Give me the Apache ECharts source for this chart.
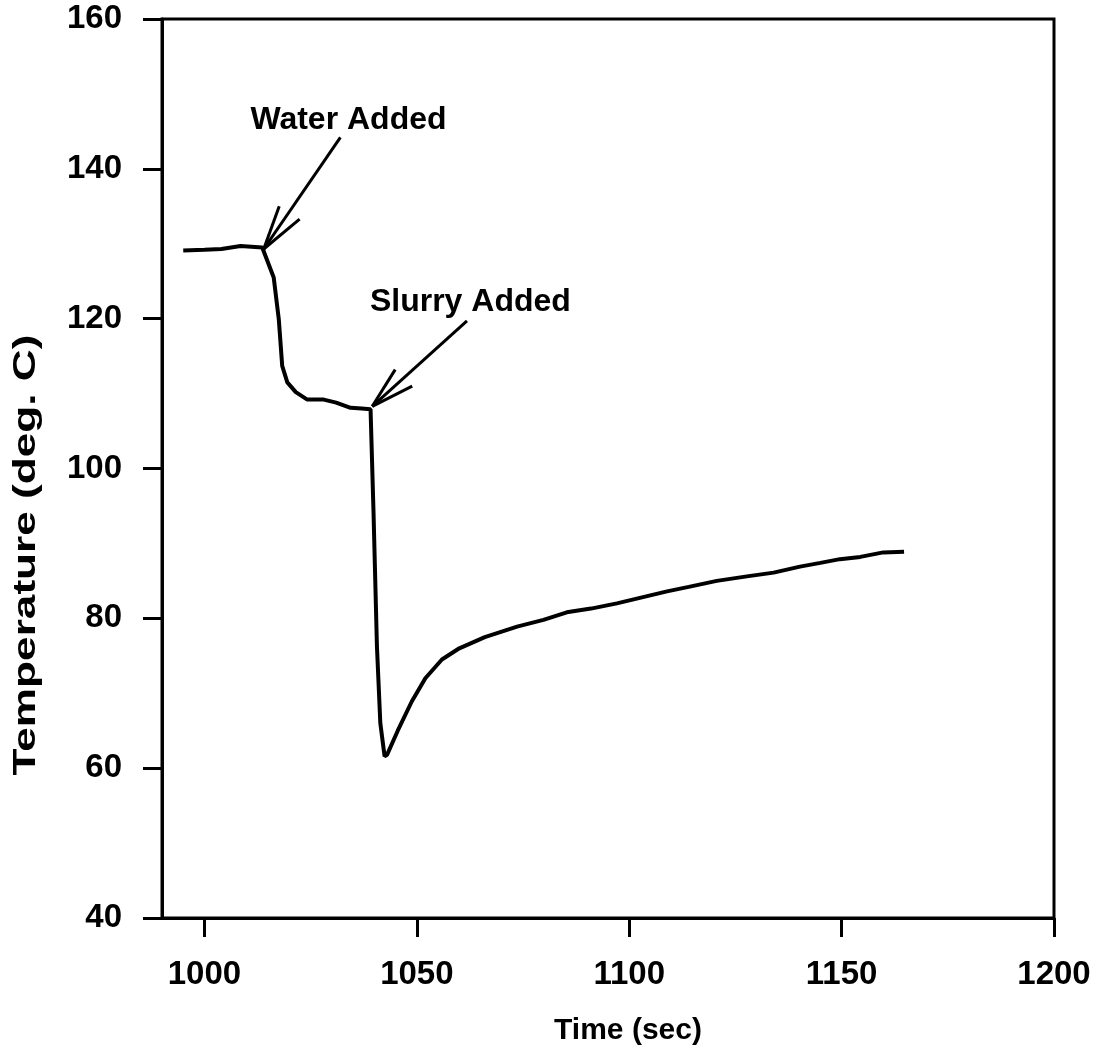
<!DOCTYPE html>
<html>
<head>
<meta charset="utf-8">
<script src="https://cdn.jsdelivr.net/npm/echarts@6/dist/echarts.min.js"></script>
<style>
  html, body { margin: 0; padding: 0; background: #fff; }
  #chart { width: 1102px; height: 1055px; }
</style>
</head>
<body>
<div id="chart"></div>
<script>
// Temperature trace (time in seconds, temperature in deg. C)
const timeSec = [995, 1000, 1004, 1008.5, 1013.6, 1016.3, 1017.5, 1018.3, 1019.5, 1021.5,
  1024.2, 1028.1, 1031, 1034.4, 1037, 1039.1, 1039.8, 1040.6, 1041.4, 1042.4,
  1043.0, 1045.5, 1048.8, 1052, 1055.9, 1060, 1066, 1073.6, 1079.8, 1085.3,
  1091, 1097.1, 1103, 1108.9, 1114, 1120.6, 1127.7, 1134, 1140.2, 1145,
  1149.6, 1154.4, 1159.8, 1164.7];
const tempC = [129.1, 129.2, 129.3, 129.7, 129.5, 125.5, 119.9, 113.7, 111.5, 110.2,
  109.2, 109.2, 108.8, 108.1, 108.0, 107.9, 94.1, 76.3, 66.0, 61.6,
  61.8, 65.0, 68.9, 72.0, 74.5, 76.0, 77.5, 78.9, 79.8, 80.8,
  81.3, 82.0, 82.8, 83.6, 84.2, 85.0, 85.6, 86.1, 86.9, 87.4,
  87.9, 88.2, 88.8, 88.9];

// Axis ticks and titles
const xTicks = [1000, 1050, 1100, 1150, 1200];
const yMin = 40, yMax = 160, yStep = 20;
const xMin = 990, xMax = 1200;
const xTitle = 'Time (sec)';
const yTitle = 'Temperature (deg. C)';

// Annotations: label text, label anchor, and arrow (tail, tip, two barbs) in data units
const annotLabels = ['Water Added', 'Slurry Added'];
const annotLabelAt = [[1033.9, 146.5], [1062.6, 122.2]];
const annotArrows = [
  { tail: [1032.0, 144.2], tip: [1013.95, 129.3], barbA: [1017.6, 135.0], barbB: [1022.4, 133.3] },
  { tail: [1061.8, 119.7], tip: [1039.5, 108.3], barbA: [1044.9, 113.2], barbB: [1048.9, 111.0] }
];

const FONT = '"Liberation Sans", Arial, Helvetica, sans-serif';

const trace = timeSec.map((t, i) => [t, tempC[i]]);

const arrowSeries = [];
annotArrows.forEach(a => {
  [[a.tail, a.tip], [a.barbA, a.tip], [a.barbB, a.tip]].forEach(seg => {
    arrowSeries.push({
      type: 'line',
      data: seg,
      symbol: 'none',
      silent: true,
      lineStyle: { color: '#000', width: 3 },
      z: 3
    });
  });
});

const chart = echarts.init(document.getElementById('chart'));
chart.setOption({
  animation: false,
  backgroundColor: '#fff',
  grid: {
    left: 162, right: 48, top: 19, bottom: 137,
    show: true, borderColor: '#000', borderWidth: 3
  },
  graphic: [
    {
      type: 'text',
      x: 628, y: 1031,
      silent: true,
      style: {
        text: xTitle,
        font: 'bold 30px ' + FONT,
        fill: '#000',
        align: 'center',
        verticalAlign: 'middle'
      }
    },
    {
      type: 'text',
      x: 26, y: 555,
      rotation: Math.PI / 2,
      scaleX: 1.38,
      silent: true,
      style: {
        text: yTitle,
        font: 'bold 32px ' + FONT,
        fill: '#000',
        align: 'center',
        verticalAlign: 'middle'
      }
    }
  ],
  xAxis: {
    type: 'value',
    min: xMin, max: xMax,
    axisLine: { lineStyle: { color: '#000', width: 3 } },
    axisTick: { show: true, length: 19, lineStyle: { color: '#000', width: 3 }, customValues: xTicks },
    axisLabel: {
      fontFamily: FONT, fontWeight: 'bold', fontSize: 33, color: '#000', margin: 40,
      customValues: xTicks,
      formatter: v => String(v)
    },
    splitLine: { show: false }
  },
  yAxis: {
    type: 'value',
    min: yMin, max: yMax, interval: yStep,
    axisLine: { show: true, lineStyle: { color: '#000', width: 3 } },
    axisTick: { show: true, length: 19, lineStyle: { color: '#000', width: 3 } },
    axisLabel: { fontFamily: FONT, fontWeight: 'bold', fontSize: 33, color: '#000', margin: 40 },
    splitLine: { show: false }
  },
  series: [
    {
      type: 'line',
      data: trace,
      symbol: 'none',
      lineStyle: { color: '#000', width: 4 },
      z: 4
    },
    ...arrowSeries,
    {
      type: 'scatter',
      symbolSize: 0,
      silent: true,
      itemStyle: { opacity: 1 },
      data: annotLabelAt.map((p, i) => ({ value: p, name: annotLabels[i] })),
      label: {
        show: true,
        position: 'inside',
        formatter: p => p.name,
        fontFamily: FONT, fontWeight: 'bold', fontSize: 32, color: '#000', opacity: 1
      }
    }
  ]
});
</script>
</body>
</html>
